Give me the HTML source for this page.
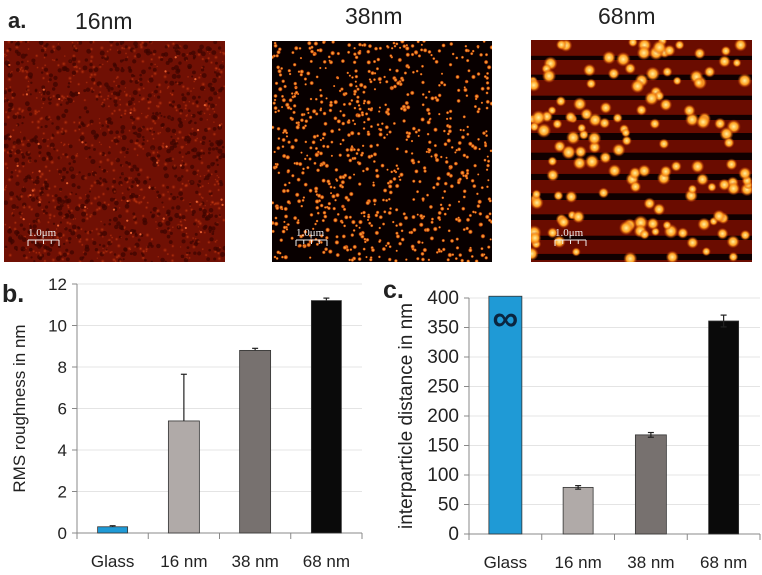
<!DOCTYPE html>
<html><head><meta charset="utf-8"><style>
body{margin:0;background:#fff;width:762px;height:575px;overflow:hidden;font-family:"Liberation Sans",sans-serif}
svg{position:absolute;left:0;top:0}
</style></head><body>
<svg id="s" width="762" height="575">
<defs>
<radialGradient id="g2"><stop offset="0" stop-color="#ffc050"/><stop offset="0.6" stop-color="#e06010"/><stop offset="1" stop-color="#901800" stop-opacity="0"/></radialGradient>
<radialGradient id="g3"><stop offset="0" stop-color="#fff0a0"/><stop offset="0.55" stop-color="#ffa020"/><stop offset="1" stop-color="#c03000" stop-opacity="0"/></radialGradient>
<radialGradient id="g1"><stop offset="0" stop-color="#d84818"/><stop offset="1" stop-color="#a01800" stop-opacity="0"/></radialGradient>
</defs>
<text x="8" y="28" font-size="22" font-weight="bold" fill="#222">a.</text>
<text x="75" y="29" font-size="23" fill="#222">16nm</text>
<text x="345" y="24" font-size="23" fill="#222">38nm</text>
<text x="598" y="24" font-size="23" fill="#222">68nm</text>
<g id="img1"></g>
<g id="img2"></g>
<g id="img3"></g>
<g id="chartB"></g>
<g id="chartC"></g>
<text x="2" y="302" font-size="25" font-weight="bold" fill="#222">b.</text>
<text x="383" y="298" font-size="25" font-weight="bold" fill="#222">c.</text>
</svg>
<script>
const NS="http://www.w3.org/2000/svg";
const svg=document.getElementById('s');
function mk(tag,attrs,parent){const e=document.createElementNS(NS,tag);for(const k in attrs)e.setAttribute(k,attrs[k]);parent.appendChild(e);return e;}
let seed=12345;function rnd(){seed=(seed*1103515245+12345)%2147483648;return seed/2147483648;}

// chart data
const categories=["Glass","16 nm","38 nm","68 nm"];
const rmsValues=[0.3,5.4,8.8,11.2];
const rmsErrors=[0.05,2.25,0.1,0.12];
const rmsTicks=[0,2,4,6,8,10,12];
const distValues=[403,79,168,361];
const distErrors=[0,3,4,10];
const distTicks=[0,50,100,150,200,250,300,350,400];
const barColors=["#1f9ad6","#b0aaa8","#77716f","#0a0a0a"];

function afm(id,x,y,w,h,type){
  const g=document.getElementById(id);
  const cp=mk('clipPath',{id:'c'+id},svg);mk('rect',{x,y,width:w,height:h},cp);
  g.setAttribute('clip-path','url(#c'+id+')');
  if(type===1){
    mk('rect',{x,y,width:w,height:h,fill:'#701004'},g);
    for(let i=0;i<1600;i++){const c=mk('circle',{cx:x+rnd()*w,cy:y+rnd()*h,r:1+rnd()*1.6,fill:rnd()<0.5?'#3a0400':'url(#g1)'},g);c.setAttribute('opacity',0.7);}
    for(let i=0;i<40;i++)mk('circle',{cx:x+rnd()*w,cy:y+rnd()*h,r:1.1,fill:'#e86030'},g);
  }else if(type===2){
    mk('rect',{x,y,width:w,height:h,fill:'#080000'},g);
    for(let i=0;i<850;i++)mk('circle',{cx:x+rnd()*w,cy:y+rnd()*h,r:1.3+rnd()*1.3,fill:'url(#g2)'},g);
  }else{
    mk('rect',{x,y,width:w,height:h,fill:'#100000'},g);
    for(let yy=y;yy<y+h;yy+=20)mk('rect',{x,y:yy,width:w,height:12+rnd()*4,fill:'#6a0c00'},g);
    for(let i=0;i<150;i++)mk('circle',{cx:x+rnd()*w,cy:y+rnd()*h,r:4.5+rnd()*3,fill:'url(#g3)'},g);
  }
  const sx=x+24,sy=y+h-22;
  mk('line',{x1:sx,y1:sy,x2:sx+31,y2:sy,stroke:'#eee','stroke-width':1},g);
  for(let k=0;k<5;k++)mk('line',{x1:sx+k*31/4,y1:sy,x2:sx+k*31/4,y2:sy+(k%4==0?6:4),stroke:'#eee','stroke-width':1},g);
  const t=mk('text',{x:sx,y:sy-4,'font-size':11,'font-family':'Liberation Serif',fill:'#eee'},g);t.textContent='1.0μm';
}
afm('img1',4,41,221,221,1);
afm('img2',272,41,220,221,2);
afm('img3',531,40,221,222,3);

function chart(id,x0,x1,y0,yTop,maxV,ticks,vals,errs,widths,title,titleX,tfs){
  const g=document.getElementById(id);
  const ys=v=>y0-(v/maxV)*(y0-yTop);
  const cw=(x1-x0)/categories.length;
  ticks.forEach(t=>{
    if(t>0){const gl=mk('line',{x1:x0,y1:ys(t),x2:x1,y2:ys(t),stroke:'#e4e4e4'},g);}
    mk('line',{x1:x0-5,y1:ys(t),x2:x0,y2:ys(t),stroke:'#888'},g);
    const tx=mk('text',{x:x0-10,y:ys(t)+6,'font-size':tfs,'text-anchor':'end',fill:'#222'},g);
    tx.textContent=t;
    
    
  });
  mk('line',{x1:x0,y1:ys(maxV),x2:x0,y2:y0,stroke:'#888'},g);
  mk('line',{x1:x0,y1:y0,x2:x1,y2:y0,stroke:'#888'},g);
  for(let i=0;i<=categories.length;i++)mk('line',{x1:x0+i*cw,y1:y0,x2:x0+i*cw,y2:y0+6,stroke:'#888'},g);
  categories.forEach((c,i)=>{
    const cx=x0+cw*(i+0.5),bw=widths[i];
    const r=mk('rect',{x:cx-bw/2,y:ys(vals[i]),width:bw,height:y0-ys(vals[i]),fill:barColors[i],stroke:'#333','stroke-width':0.8},g);
    
    
    if(errs[i]>0){
      const ye=ys(vals[i]+errs[i]);
      mk('line',{x1:cx,y1:ys(vals[i]),x2:cx,y2:ye,stroke:'#222','stroke-width':1.2},g);
      mk('line',{x1:cx-3,y1:ye,x2:cx+3,y2:ye,stroke:'#222','stroke-width':1.2},g);
      if(id==='chartC'){const yl=ys(vals[i]-errs[i]);mk('line',{x1:cx,y1:ys(vals[i]),x2:cx,y2:yl,stroke:'#222','stroke-width':1.2},g);mk('line',{x1:cx-3,y1:yl,x2:cx+3,y2:yl,stroke:'#222','stroke-width':1.2},g);}
    }
    const lt=mk('text',{x:cx,y:y0+34,'font-size':17,'text-anchor':'middle',fill:'#222'},g);
    lt.textContent=c;
    
    
  });
  const tt=mk('text',{x:titleX,y:(y0+yTop)/2,'font-size':tfs,'text-anchor':'middle',fill:'#222',transform:`rotate(-90 ${titleX} ${(y0+yTop)/2})`},g);
  tt.textContent=title;
  
  
  return {ys,cw};
}
chart('chartB',77,362,533,284,12,rmsTicks,rmsValues,rmsErrors,[30,31,31,30],'RMS roughness in nm',25,17);
const c=chart('chartC',469,760,534,298,400,distTicks,distValues,distErrors,[33,30,31,30],'interparticle distance in nm',412,19);
const inf=mk('text',{x:469+c.cw*0.5,y:c.ys(345),'font-size':36,'font-weight':'bold','text-anchor':'middle',fill:'#0a2540'},document.getElementById('chartC'));
inf.textContent='∞';


</script>
</body></html>
